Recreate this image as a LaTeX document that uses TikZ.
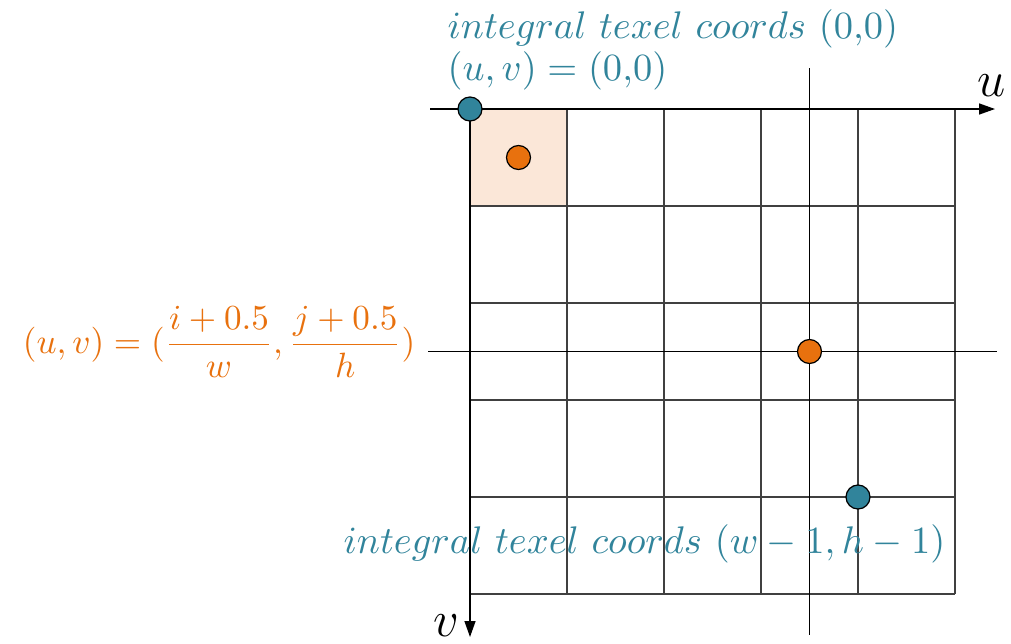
\documentclass[tikz,border=0pt]{standalone}
\usepackage{amsmath}
\usetikzlibrary{arrows.meta}
\definecolor{bleu}{HTML}{31849B}
\definecolor{orange}{HTML}{E8710E}
\definecolor{saumon}{HTML}{FBE7D8}
\begin{document}
\begin{tikzpicture}[xscale=1,yscale=1]
	% Styles (MODIFIABLES)
	\tikzstyle{fleche}=[->,>={Triangle[length=1.6mm,width=1.1mm]},line width=0.4pt]
	\tikzstyle{axe}=[-,line width=0.4pt]
	\tikzstyle{grille}=[black!75,line width=0.35pt]
	\tikzstyle{pointbleu}=[circle,draw=black,fill=bleu,inner sep=0pt,minimum size=2.4mm,line width=0.35pt]
	\tikzstyle{pointorange}=[circle,draw=black,fill=orange,inner sep=0pt,minimum size=2.4mm,line width=0.35pt]
	\tikzstyle{commentaire}=[bleu,inner sep=0pt,font=\fontsize{11}{13}\selectfont]
	% Dimensions (MODIFIABLES)
	\def\Cote{0.97}
	\def\OrigineX{4.70}
	\def\OrigineY{5.34}
	% Cadre
	\useasboundingbox (0,0) rectangle (10.11,6.43);
	% Texel (0,0) et grille
	\fill[saumon] (\OrigineX,\OrigineY) rectangle ({\OrigineX+\Cote},{\OrigineY-\Cote});
	\foreach \k in {0,...,5}{
		\draw[grille] ({\OrigineX+\k*\Cote},\OrigineY) -- ({\OrigineX+\k*\Cote},{\OrigineY-5*\Cote});
		\draw[grille] (\OrigineX,{\OrigineY-\k*\Cote}) -- ({\OrigineX+5*\Cote},{\OrigineY-\k*\Cote});
	}
	% Noeuds (MODIFIABLES)
	\coordinate (Uo) at (4.30,\OrigineY);
	\coordinate (Ue) at (9.95,\OrigineY);
	\coordinate (Vo) at (\OrigineX,\OrigineY);
	\coordinate (Ve) at (\OrigineX,0.06);
	\coordinate (Ho) at (4.28,{\OrigineY-2.5*\Cote});
	\coordinate (He) at (9.97,{\OrigineY-2.5*\Cote});
	\coordinate (Lo) at ({\OrigineX+3.5*\Cote},5.75);
	\coordinate (Le) at ({\OrigineX+3.5*\Cote},0.08);
	\node[inner sep=0pt,font=\fontsize{15}{15}\selectfont] (u) at (9.92,5.57) {$u$};
	\node[inner sep=0pt,font=\fontsize{15}{15}\selectfont] (v) at (4.46,0.17) {$v$};
	% Arcs (MODIFIABLES : Styles)
	\draw[fleche] (Uo)--(Ue);
	\draw[fleche] (Vo)--(Ve);
	\draw[axe] (Ho)--(He);
	\draw[axe] (Lo)--(Le);
	% Points
	\node[pointbleu] (P00) at (\OrigineX,\OrigineY) {};
	\node[pointorange] (C00) at ({\OrigineX+0.5*\Cote},{\OrigineY-0.5*\Cote}) {};
	\node[pointorange] (Cij) at ({\OrigineX+3.5*\Cote},{\OrigineY-2.5*\Cote}) {};
	\node[pointbleu] (Pwh) at ({\OrigineX+4*\Cote},{\OrigineY-4*\Cote}) {};
	% Textes
	\node[commentaire,anchor=base west] (T1) at (4.47,6.05) {$integral\ texel\ coords\ (0{,}0)$};
	\node[commentaire,anchor=base west] (T2) at (4.47,5.63) {$(u,v)=(0{,}0)$};
	\node[commentaire,anchor=base west] (T3) at (3.43,0.90) {$integral\ texel\ coords\ (w-1,h-1)$};
	\node[commentaire,orange,anchor=east,font=\fontsize{10.3}{12}\selectfont] (F) at (4.16,3.01) {$(u,v)=(\dfrac{i+0.5}{w},\dfrac{j+0.5}{h})$};
\end{tikzpicture}
\end{document}
